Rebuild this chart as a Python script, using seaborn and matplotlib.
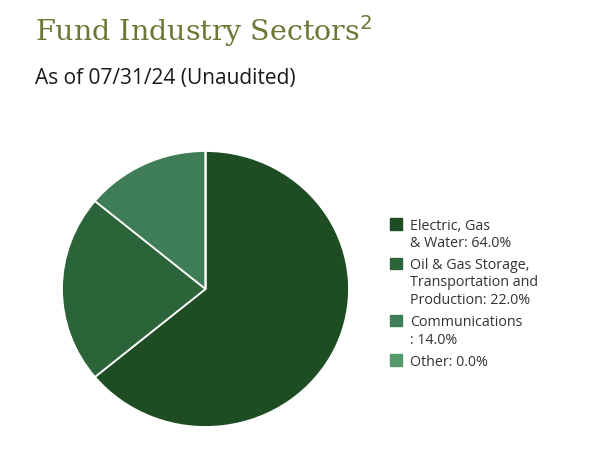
import matplotlib
matplotlib.use("Agg")
import matplotlib.pyplot as plt
import seaborn as sns
from matplotlib.patches import Rectangle

sns.set_theme(style="white")
plt.rcParams['font.family'] = ['Open Sans', 'DejaVu Sans']

labels = ["Electric, Gas\n& Water: 64.0%",
          "Oil & Gas Storage,\nTransportation and\nProduction: 22.0%",
          "Communications\n: 14.0%",
          "Other: 0.0%"]
values = [64.0, 22.0, 14.0, 0.0]
colors = ["#1f4d23", "#2c643a", "#3e7d55", "#56996a"]

W, H = 600, 450
fig = plt.figure(figsize=(6, 4.5), dpi=100)
fig.patch.set_facecolor("white")

ax = fig.add_axes([62/W, (H-427)/H, 287/W, 276/H])
ax.pie(values, colors=colors, startangle=90, counterclock=False,
       wedgeprops=dict(edgecolor="white", linewidth=1.3))
ax.set_xlim(-1, 1)
ax.set_ylim(-1, 1)
ax.set_aspect("auto")
ax.axis("off")

fig.text(35/W, 1-41/H, "Fund Industry Sectors$^{2}$", family="DejaVu Serif",
         fontsize=20.5, color="#6b7735", ha="left", va="baseline")
fig.text(35/W, 1-84/H, "As of 07/31/24 (Unaudited)", fontsize=15,
         color="#1a1a1a", ha="left", va="baseline")

# legend drawn manually so the swatch aligns with the first label line
line_h = 17.5
gap = 4.5
y = 224.0  # centre of first line (px from top)
for lab, c in zip(labels, colors):
    lines = lab.split("\n")
    fig.add_artist(Rectangle((390/W, 1-(y+5.7)/H), 11.5/W, 11.5/H,
                             transform=fig.transFigure, facecolor=c, edgecolor=c))
    for i, ln in enumerate(lines):
        fig.text(410/W, 1-(y+i*line_h)/H, ln, fontsize=10.3, color="#333333",
                 ha="left", va="center_baseline")
    y += len(lines)*line_h + gap

fig.savefig("out.png", dpi=100)
